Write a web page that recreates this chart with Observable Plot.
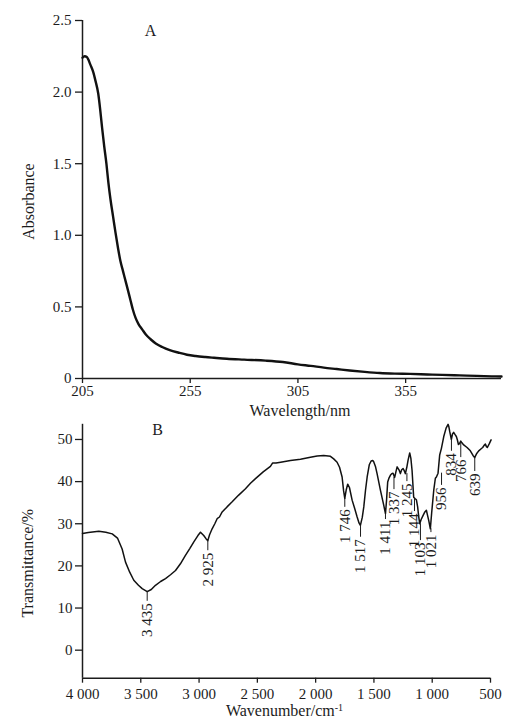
<!DOCTYPE html>
<html><head><meta charset="utf-8">
<script src="https://cdn.jsdelivr.net/npm/d3@7"></script>
<script src="https://cdn.jsdelivr.net/npm/@observablehq/plot@0.6"></script>
<style>
body{margin:0;background:#fff;overflow:hidden;}
#chart{width:518px;}
#chart svg{display:block;}
</style></head><body><div id="chart"></div>
<script>
// ---- Panel A: UV spectrum ----
const uvWl  = [205,206,207,208.7,210,211,212.3,213.2,214.1,215.1,216.1,217,218,219.2,220.3,221.5,222.6,223.8,225,226.2,227.3,228.4,229.6,231,232.7,234.5,236.6,239,242,245.5,249.7,253.5,257.5,262,266,272,280,290,298,305,311,317,323,329,336,343,350,357,365,372,380,388,395,399.5];
const uvAbs = [2.24,2.25,2.245,2.19,2.14,2.08,1.99,1.88,1.75,1.62,1.50,1.37,1.25,1.13,1.02,0.91,0.82,0.75,0.68,0.61,0.545,0.48,0.425,0.38,0.343,0.305,0.274,0.245,0.22,0.198,0.18,0.166,0.157,0.15,0.145,0.138,0.132,0.125,0.115,0.099,0.088,0.076,0.066,0.056,0.046,0.038,0.034,0.032,0.028,0.025,0.022,0.018,0.015,0.014];
const uvTicks = [205,255,305,355];
const absTicks = [0,0.5,1,1.5,2,2.5];
const absTickLabels = ["0","0.5","1.0","1.5","2.0","2.5"];

// ---- Panel B: IR spectrum ----
const irWn = [4000,3950,3860,3800,3745,3700,3660,3631,3595,3560,3520,3488,3445,3410,3374,3330,3288,3245,3202,3160,3117,3080,3045,3010,2988,2960,2939,2925,2910,2888,2865,2845,2825,2802,2760,2716,2660,2602,2559,2516,2450,2388,2370,2340,2300,2216,2130,2045,1987,1931,1873,1845,1816,1795,1773,1760,1750,1738,1725,1710,1687,1665,1644,1628,1616,1600,1587,1572,1558,1540,1524,1510,1502,1487,1473,1444,1416,1401,1392,1382,1370,1359,1347,1336,1322,1310,1301,1285,1273,1262,1250,1240,1230,1218,1207,1193,1183,1173,1159,1148,1136,1125,1115,1107,1095,1078,1063,1050,1040,1030,1016,1005,987,973,964,950,936,921,901,881,864,857,850,836,826,816,805,793,785,775,766,755,745,730,701,673,650,636,620,601,580,567,555,544,535,527,510,495];
const irT  = [27.7,27.9,28.2,28.0,27.6,26.6,24.0,20.9,18.5,16.6,15.4,14.6,13.9,14.4,15.4,16.3,17.0,17.9,18.9,20.5,22.5,24.1,25.7,27.2,28.0,27.2,26.4,26.0,27.4,28.8,30.0,31.2,31.6,32.8,34.0,35.2,36.8,38.3,39.6,40.7,42.3,43.6,44.4,44.4,44.6,45.0,45.3,45.8,46.1,46.2,46.0,45.4,44.6,43.4,41.1,37.8,36.0,38.0,39.4,38.6,35.6,33.6,31.6,30.2,29.6,31.5,34.0,38.0,41.1,44.0,44.9,45.0,44.7,43.6,41.9,37.9,34.4,32.4,35.5,39.9,40.9,41.5,41.9,42.0,41.0,42.5,43.5,42.8,41.9,42.8,43.1,42.6,41.9,43.4,45.1,46.8,45.5,42.7,36.3,36.0,35.7,34.0,31.5,30.0,31.0,32.0,32.8,33.2,32.0,30.8,28.8,32.5,37.9,40.8,41.1,42.0,46.3,47.9,50.7,52.7,53.6,53.0,51.9,50.0,51.3,51.7,51.2,50.7,50.0,48.8,49.0,49.6,49.2,48.7,48.1,47.3,46.2,45.7,46.6,47.3,47.8,48.1,48.6,48.9,48.3,48.1,49.0,49.9];
const wnTicks = [4000,3500,3000,2500,2000,1500,1000,500];
const wnTickLabels = ["4 000","3 500","3 000","2 500","2 000","1 500","1 000","500"];
const tTicks = [0,10,20,30,40,50];

// peak annotations (label text, position on the drawn curve, tick start and end)
const peakText = ["3 435","2 925","1 746","1 517","1 411","1 337","1 245","1 144","1 103","1 021","956","834","766","639"];
const peakWn   = [3445,2925,1750,1615,1401,1328,1217,1152,1101,1011,920,835,755,635];
const peakTop  = [13.9,26.0,36.0,29.6,32.4,41.0,41.9,36.0,30.0,28.8,42.0,50.0,49.2,45.7];
const peakEnd  = [11.6,23.6,33.9,26.8,31.0,38.1,40.0,32.9,26.0,27.9,39.1,47.2,45.7,42.4];

const uvDomainX = [205,399.5];
const uvDomainY = [0,2.5];
const irDomainX = [4000,500];
const irDomainY = [-6.65,53.6];

const font = "'Liberation Serif','Times New Roman',serif";
const ink = "#1c1c1c";

const uv = uvWl.map((x,i)=>({x, y: uvAbs[i]}));
const ir = irWn.map((x,i)=>({x, y: irT[i]}));
const peaks = peakText.map((t,i)=>({t, wn: peakWn[i], top: peakTop[i], end: peakEnd[i]}));

const p1 = Plot.plot({
  width:518, height:420, marginLeft:82, marginRight:17, marginTop:20, marginBottom:42,
  style:{fontFamily:font, fontSize:"15px", color:ink, background:"transparent", overflow:"visible"},
  x:{domain:uvDomainX},
  y:{domain:uvDomainY},
  marks:[
    Plot.axisX({ticks:uvTicks, tickSize:5, tickPadding:2, label:null, fontSize:15, strokeWidth:1.3}),
    Plot.axisY({ticks:absTicks, tickFormat:d=>absTickLabels[absTicks.indexOf(d)], tickSize:7, tickPadding:4, label:null, fontSize:15, strokeWidth:1.3}),
    Plot.ruleY([uvDomainY[0]],{stroke:ink, strokeWidth:1.5}),
    Plot.ruleX([uvDomainX[0]],{stroke:ink, strokeWidth:1.5}),
    Plot.line(uv,{x:"x", y:"y", stroke:"#111", strokeWidth:2.4, curve:"monotone-x"}),
    Plot.text(["A"],{frameAnchor:"top-left", dx:68, dy:10, textAnchor:"middle", lineAnchor:"middle", fontSize:16}),
    Plot.text(["Wavelength/nm"],{frameAnchor:"bottom", dx:8, dy:32, textAnchor:"middle", lineAnchor:"middle", fontSize:16}),
    Plot.text(["Absorbance"],{frameAnchor:"left", rotate:-90, dx:-54, dy:2, textAnchor:"middle", lineAnchor:"middle", fontSize:16})
  ]
});

const p2 = Plot.plot({
  width:518, height:301, marginLeft:82, marginRight:28, marginTop:3.8, marginBottom:43.3,
  style:{fontFamily:font, fontSize:"15px", color:ink, background:"transparent", overflow:"visible"},
  x:{domain:irDomainX},
  y:{domain:irDomainY},
  marks:[
    Plot.axisX({ticks:wnTicks, tickFormat:d=>wnTickLabels[wnTicks.indexOf(d)], tickSize:5, tickPadding:5, label:null, fontSize:15, strokeWidth:1.3}),
    Plot.axisY({ticks:tTicks, tickSize:7, tickPadding:3, label:null, fontSize:15, strokeWidth:1.3}),
    Plot.ruleY([irDomainY[0]],{stroke:ink, strokeWidth:1.5}),
    Plot.ruleX([irDomainX[0]],{stroke:ink, strokeWidth:1.5}),
    Plot.line(ir,{x:"x", y:"y", stroke:"#111", strokeWidth:1.5, curve:"linear"}),
    Plot.ruleX(peaks,{x:"wn", y1:"top", y2:"end", stroke:ink, strokeWidth:1}),
    Plot.text(peaks,{x:"wn", y:"end", text:"t", rotate:-90, textAnchor:"end", lineAnchor:"middle", dy:2, fontSize:15}),
    Plot.text(["B"],{frameAnchor:"top-left", dx:75, dy:6, textAnchor:"middle", lineAnchor:"middle", fontSize:16}),
    Plot.text(["Wavenumber/cm"],{frameAnchor:"bottom", dx:-2, dy:33, textAnchor:"middle", lineAnchor:"middle", fontSize:16}),
    Plot.text(["Transmittance/%"],{frameAnchor:"left", rotate:-90, dx:-55, dy:12, textAnchor:"middle", lineAnchor:"middle", fontSize:16})
  ]
});

// superscript "-1" on the wavenumber unit
d3.select(p2).selectAll("text").each(function(){
  if (this.textContent === "Wavenumber/cm") {
    d3.select(this).append("tspan").attr("dy","-0.5em").attr("font-size","10px").text("-1");
  }
});

const root = document.getElementById("chart");
root.appendChild(p1);
root.appendChild(p2);
</script></body></html>
